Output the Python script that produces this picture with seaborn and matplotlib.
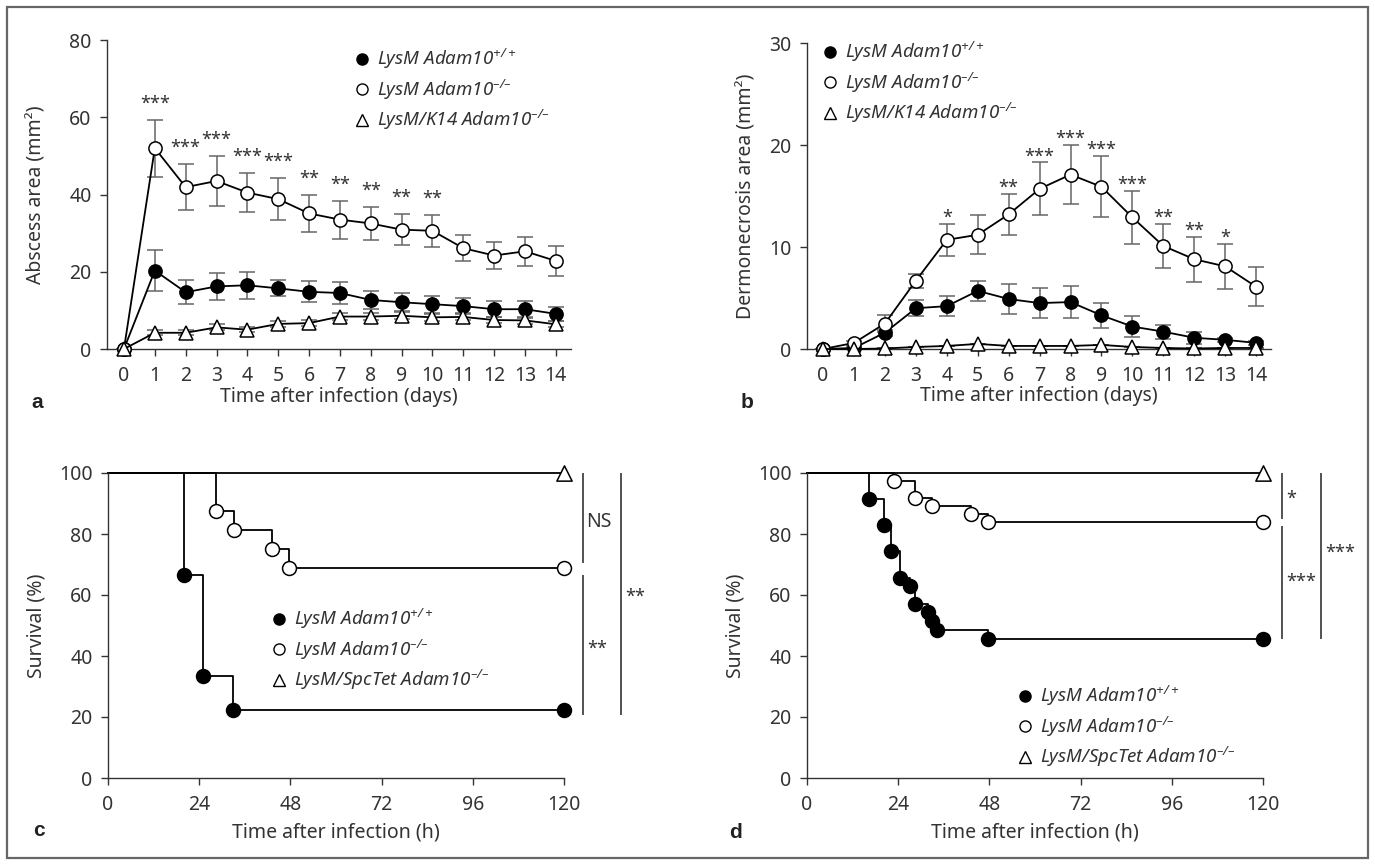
import matplotlib
matplotlib.use('Agg')
import matplotlib.pyplot as plt
from matplotlib.lines import Line2D
from matplotlib.patches import Rectangle
import seaborn as sns

# ---- panel a: abscess area (mm2), mean and SEM per day ----
days = list(range(15))
a_wt_mean = [0, 20.3, 14.7, 16.2, 16.5, 15.7, 14.8, 14.5, 12.7, 12.1, 11.6, 11.1, 10.3, 10.3, 9.1]
a_wt_sem = [0, 5.4, 3.1, 3.6, 3.5, 2.1, 2.7, 2.8, 2.4, 2.3, 2.2, 2.0, 2.0, 2.2, 1.9]
a_ko_mean = [0, 52.0, 41.9, 43.5, 40.5, 38.8, 35.1, 33.5, 32.5, 30.9, 30.6, 26.1, 24.2, 25.3, 22.8]
a_ko_sem = [0, 7.4, 5.9, 6.5, 5.0, 5.4, 4.9, 4.9, 4.2, 4.1, 4.2, 3.4, 3.5, 3.7, 3.8]
a_k14_mean = [0, 4.2, 4.2, 5.6, 5.0, 6.5, 6.7, 8.4, 8.4, 8.6, 8.2, 8.3, 7.5, 7.4, 6.4]
a_k14_sem = [0, 0.6, 0.6, 0.8, 0.7, 0.8, 0.8, 0.9, 0.9, 0.9, 0.9, 0.9, 0.8, 0.8, 0.8]
a_stars = ['', '***', '***', '***', '***', '***', '**', '**', '**', '**', '**', '', '', '', '']

# ---- panel b: dermonecrosis area (mm2) ----
b_wt_mean = [0, 0.1, 1.6, 4.0, 4.2, 5.7, 4.9, 4.5, 4.6, 3.3, 2.2, 1.7, 1.1, 0.9, 0.6]
b_wt_sem = [0, 0.1, 0.3, 0.8, 1.0, 1.0, 1.5, 1.5, 1.6, 1.2, 1.0, 0.7, 0.6, 0.2, 0.2]
b_ko_mean = [0, 0.6, 2.5, 6.7, 10.7, 11.2, 13.2, 15.7, 17.1, 15.9, 12.9, 10.1, 8.8, 8.1, 6.1]
b_ko_sem = [0, 0.2, 0.8, 0.7, 1.6, 1.9, 2.0, 2.6, 2.9, 3.0, 2.6, 2.2, 2.2, 2.2, 1.9]
b_k14_mean = [0, 0, 0.05, 0.2, 0.3, 0.5, 0.3, 0.3, 0.3, 0.4, 0.2, 0.1, 0.05, 0.1, 0.1]
b_k14_sem = [0, 0, 0, 0, 0, 0, 0, 0, 0, 0, 0, 0, 0, 0, 0]
b_stars = ['', '', '', '', '*', '', '**', '***', '***', '***', '***', '**', '**', '*', '']

# ---- panel c: survival (%) ----
c_wt_time = [20, 25, 33, 120]
c_wt_surv = [66.7, 33.3, 22.2, 22.2]
c_ko_time = [28.5, 33.2, 43.2, 47.6, 120]
c_ko_surv = [87.5, 81.3, 75.0, 68.8, 68.8]
c_spc_time = [120]
c_spc_surv = [100]

# ---- panel d: survival (%) ----
d_wt_time = [16.3, 20.3, 22.1, 24.4, 27.0, 28.5, 31.8, 33.0, 34.1, 47.6, 120]
d_wt_surv = [91.4, 82.9, 74.3, 65.7, 62.9, 57.1, 54.3, 51.4, 48.6, 45.7, 45.7]
d_ko_time = [23.0, 28.5, 33.0, 43.1, 47.5, 120]
d_ko_surv = [97.3, 91.9, 89.2, 86.5, 83.8, 83.8]
d_spc_time = [120]
d_spc_surv = [100]

lab_wt = r'LysM Adam10$^{+/+}$'
lab_ko = r'LysM Adam10$^{–/–}$'
lab_k14 = r'LysM/K14 Adam10$^{–/–}$'
lab_spc = r'LysM/SpcTet Adam10$^{–/–}$'

TXT = '#333333'
W, H = 1375, 865

sns.set_theme(style='ticks')
plt.rcParams['font.family'] = ['Noto Sans', 'DejaVu Sans']
plt.rcParams['mathtext.default'] = 'regular'
plt.rcParams['text.color'] = TXT
plt.rcParams['axes.labelcolor'] = TXT

STYLES = {
    'wt': dict(marker='o', mfc='black', mec='black', ms=9.5),
    'ko': dict(marker='o', mfc='white', mec='black', ms=9.5),
    'tri': dict(marker='^', mfc='white', mec='black', ms=10.5),
}


def px_axes(fig, left, top, right, bottom):
    return fig.add_axes([left / W, 1 - bottom / H, (right - left) / W, (bottom - top) / H])


def style_axes(ax, xlabel, ylabel, ylab_x, xlab_y):
    sns.despine(ax=ax)
    for s in ('left', 'bottom'):
        ax.spines[s].set_color(TXT)
        ax.spines[s].set_linewidth(1.0)
    ax.tick_params(axis='both', length=5, width=1, color=TXT,
                   labelcolor=TXT, labelsize=14)
    ax.tick_params(axis='y', pad=6)
    ax.tick_params(axis='x', pad=7)
    ax.set_xlabel(xlabel, fontsize=14)
    ax.set_ylabel(ylabel, fontsize=14)
    ax.yaxis.set_label_coords(ylab_x, 0.5)
    ax.yaxis.label.set_va('center')
    ax.xaxis.set_label_coords(0.5, xlab_y)
    ax.xaxis.label.set_va('center')


def add_legend(fig, labels, keys, left, top):
    handles = [Line2D([], [], ls='none', marker=STYLES[k]['marker'],
                      mfc=STYLES[k]['mfc'], mec='black', mew=1.0,
                      ms=STYLES[k]['ms'] - 1.5) for k in keys]
    fig.legend(handles, labels, loc='upper left',
               bbox_to_anchor=(left / W, 1 - top / H),
               bbox_transform=fig.transFigure, frameon=False,
               borderpad=0, borderaxespad=0, handlelength=0.8,
               handletextpad=0.45, labelspacing=0.35,
               prop={'style': 'italic', 'size': 13.5})


def time_course(ax, series, stars, star_off):
    for key, mean, sem in series:
        ax.errorbar(days, mean, yerr=sem, fmt='none', ecolor='#666666',
                    elinewidth=1.1, capsize=5.5, capthick=1.1, zorder=2,
                    clip_on=False)
        st = STYLES[key]
        sns.lineplot(x=days, y=mean, ax=ax, color='black', linewidth=1.3,
                     marker=st['marker'], markersize=st['ms'],
                     markerfacecolor=st['mfc'], markeredgecolor=st['mec'],
                     markeredgewidth=1.1, zorder=3, clip_on=False)
    ko_mean, ko_sem = series[1][1], series[1][2]
    for d, s, m, e in zip(days, stars, ko_mean, ko_sem):
        if s:
            ax.text(d, m + e + star_off, s, ha='center', va='baseline',
                    fontsize=13, color=TXT)
    ax.set_xticks(days)


def survival(ax, curves):
    for key, t, s in curves:
        st = STYLES[key]
        sns.lineplot(x=[0] + t, y=[100] + s, ax=ax, color='black',
                     linewidth=1.3, drawstyle='steps-post', zorder=2,
                     clip_on=False)
        sns.scatterplot(x=t, y=s, ax=ax, marker=st['marker'],
                        s=(st['ms'] + 0.5) ** 2, color=st['mfc'],
                        edgecolor='black', linewidth=1.1, zorder=3,
                        clip_on=False)
    ax.set_xlim(0, 120)
    ax.set_ylim(0, 100)
    ax.set_xticks([0, 24, 48, 72, 96, 120])
    ax.set_yticks([0, 20, 40, 60, 80, 100])


def sig_bar(ax, x, y0, y1, label, tx, ty, size=14):
    ax.vlines(x, y0, y1, color=TXT, linewidth=1.2, clip_on=False)
    ax.text(tx, ty, label, ha='left', va='center', fontsize=size, color=TXT)


fig = plt.figure(figsize=(W / 100, H / 100), dpi=100)

# panel a
ax_a = px_axes(fig, 107, 40, 571, 349)
time_course(ax_a, [('wt', a_wt_mean, a_wt_sem), ('ko', a_ko_mean, a_ko_sem),
                   ('tri', a_k14_mean, a_k14_sem)], a_stars, 2.9)
ax_a.set_xlim(-0.55, 14.49)
ax_a.set_ylim(0, 80)
ax_a.set_yticks([0, 20, 40, 60, 80])
style_axes(ax_a, 'Time after infection (days)', 'Abscess area (mm²)', -0.152, -0.155)
add_legend(fig, [lab_wt, lab_ko, lab_k14], ['wt', 'ko', 'tri'], 354, 47)

# panel b
ax_b = px_axes(fig, 807, 43, 1271, 349)
time_course(ax_b, [('wt', b_wt_mean, b_wt_sem), ('ko', b_ko_mean, b_ko_sem),
                   ('tri', b_k14_mean, b_k14_sem)], b_stars, 0.1)
ax_b.set_xlim(-0.52, 14.48)
ax_b.set_ylim(0, 30)
ax_b.set_yticks([0, 10, 20, 30])
style_axes(ax_b, 'Time after infection (days)', 'Dermonecrosis area (mm²)', -0.13, -0.155)
add_legend(fig, [lab_wt, lab_ko, lab_k14], ['wt', 'ko', 'tri'], 822, 40)

# panel c
ax_c = px_axes(fig, 108, 473, 564, 778)
survival(ax_c, [('tri', c_spc_time, c_spc_surv), ('ko', c_ko_time, c_ko_surv),
                ('wt', c_wt_time, c_wt_surv)])
style_axes(ax_c, 'Time after infection (h)', 'Survival (%)', -0.156, -0.18)
sig_bar(ax_c, 125, 70.5, 100, 'NS', 125.8, 84)
sig_bar(ax_c, 125, 20.7, 66.6, '**', 126.2, 42.5, 13)
sig_bar(ax_c, 135, 20.7, 100, '**', 136.2, 59.5, 13)
add_legend(fig, [lab_wt, lab_ko, lab_spc], ['wt', 'ko', 'tri'], 271, 607)

# panel d
ax_d = px_axes(fig, 807, 473, 1263, 778)
survival(ax_d, [('tri', d_spc_time, d_spc_surv), ('ko', d_ko_time, d_ko_surv),
                ('wt', d_wt_time, d_wt_surv)])
style_axes(ax_d, 'Time after infection (h)', 'Survival (%)', -0.156, -0.18)
sig_bar(ax_d, 125, 84.9, 100, '*', 126.2, 91.5, 13)
sig_bar(ax_d, 125, 45.6, 82.6, '***', 126.2, 64.5, 13)
sig_bar(ax_d, 135.3, 45.6, 100, '***', 136.3, 73.8, 13)
add_legend(fig, [lab_wt, lab_ko, lab_spc], ['wt', 'ko', 'tri'], 1017, 684)

# panel letters
for lx, ly, letter in [(37, 403, 'a'), (747, 403, 'b'), (39, 830, 'c'), (736, 832, 'd')]:
    fig.text(lx / W, 1 - ly / H, letter, fontsize=15, fontweight='bold',
             family='Liberation Sans', ha='center', va='center',
             color='#222222')

# outer frame
fig.add_artist(Rectangle((7 / W, 7 / H), 1361 / W, 851 / H, fill=False,
                         edgecolor='#666666', linewidth=1.6,
                         transform=fig.transFigure))

fig.savefig('out.png', dpi=100)
